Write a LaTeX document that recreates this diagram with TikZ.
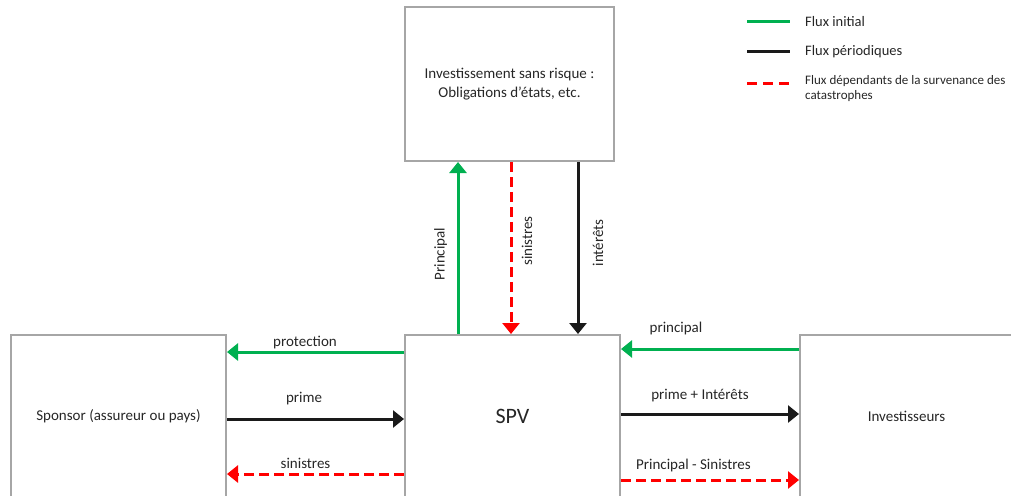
\documentclass[tikz,border=0pt]{standalone}
\usepackage{fontspec}
\setmainfont{Carlito}
\usetikzlibrary{positioning,arrows.meta}

\definecolor{vert}{HTML}{00B050}
\definecolor{rouge}{HTML}{FF0000}
\definecolor{gris}{HTML}{A6A6A6}
\definecolor{noir}{HTML}{1A1A1A}
\definecolor{texte}{HTML}{262626}

\tikzset{
  boite/.style={draw=gris, line width=2pt, inner sep=0pt, align=center,
    text=texte, font=\fontsize{15}{19}\selectfont},
  lbl/.style={text=texte, inner sep=0pt, font=\fontsize{15}{18}\selectfont},
  fleche/.style={line width=3pt, -{Triangle[width=17pt,length=11pt]}},
  fluxinit/.style={fleche, draw=vert},
  fluxper/.style={fleche, draw=noir},
  fluxcat/.style={fleche, draw=rouge, dash pattern=on 10pt off 5pt},
}

\begin{document}
\begin{tikzpicture}[x=1pt,y=-1pt]
  \useasboundingbox (0,0) rectangle (1011,495);
  \clip (0,0) rectangle (1011,495);

  % boxes
  \node[boite, minimum width=209pt, minimum height=154pt] (placement) at (509.5,84)
    {Investissement sans risque :\\Obligations d’états, etc.};
  \node[boite, minimum width=215pt, minimum height=162pt] (sponsor) at (118.5,416)
    {Sponsor (assureur ou pays)};
  \node[boite, minimum width=215pt, minimum height=162pt,
    font=\fontsize{22}{26}\selectfont] (spv) at (512.5,416) {SPV};
  \node[boite, minimum width=213pt, minimum height=162pt] (invest) at (906.5,416)
    {Investisseurs};

  % SPV <-> placement
  \draw[fluxinit] ([xshift=54pt]spv.north west) -- ([xshift=54pt]placement.south west)
    node[lbl, midway, xshift=-17.5pt, yshift=-6pt, rotate=90] {Principal};
  \draw[fluxcat] ([xshift=107pt]placement.south west) -- ([xshift=107pt]spv.north west)
    node[lbl, midway, xshift=16pt, yshift=7pt, rotate=90] {sinistres};
  \draw[fluxper] ([xshift=174pt]placement.south west) -- ([xshift=174pt]spv.north west)
    node[lbl, midway, xshift=20pt, yshift=5pt, rotate=90] {intérêts};

  % sponsor <-> SPV
  \draw[fluxinit] ([yshift=64pt]spv.west) -- ([yshift=64pt]sponsor.east)
    node[lbl, midway, xshift=-10.5pt, yshift=9pt] {protection};
  \draw[fluxper] ([yshift=-3pt]sponsor.east) -- ([yshift=-3pt]spv.west)
    node[lbl, midway, xshift=-11.5pt, yshift=20pt] {prime};
  \draw[fluxcat] ([yshift=-58pt]spv.west) -- ([yshift=-58pt]sponsor.east)
    node[lbl, midway, xshift=-10pt, yshift=11pt] {sinistres};

  % SPV <-> investisseurs
  \draw[fluxinit] ([yshift=67pt]invest.west) -- ([yshift=67pt]spv.east)
    node[lbl, midway, xshift=-34pt, yshift=21pt] {principal};
  \draw[fluxper] ([yshift=2pt]spv.east) -- ([yshift=2pt]invest.west)
    node[lbl, midway, xshift=-10pt, yshift=18pt] {prime + Intérêts};
  \draw[fluxcat] ([yshift=-64pt]spv.east) -- ([yshift=-64pt]invest.west)
    node[lbl, midway, xshift=-16.5pt, yshift=15pt] {Principal - Sinistres};

  % legend
  \draw[vert, line width=3pt] (747,22) -- (790,22);
  \draw[noir, line width=3pt] (747,52) -- (790,52);
  \draw[rouge, line width=3pt, dash pattern=on 10pt off 6pt] (747,83) -- (790,83);
  \node[lbl, anchor=west, font=\fontsize{14.5}{17}\selectfont] (leg1) at (805,22) {Flux initial};
  \node[lbl, anchor=west, font=\fontsize{14.5}{17}\selectfont] (leg2) at (805,52) {Flux périodiques};
  \node[lbl, anchor=north west, align=left, font=\fontsize{13}{15.5}\selectfont] (leg3) at (805,75)
    {Flux dépendants de la survenance des\\catastrophes};
\end{tikzpicture}
\end{document}
